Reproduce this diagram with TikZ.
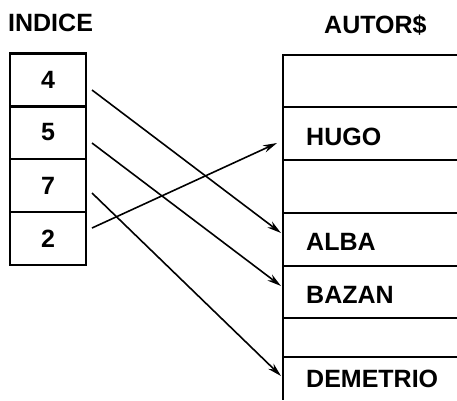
\documentclass[tikz,border=0pt]{standalone}
\usepackage{fontspec}
\setmainfont{Liberation Sans}
\usetikzlibrary{arrows.meta}
\begin{document}
\begin{tikzpicture}[x=1pt,y=-1pt,
  font=\fontsize{25}{30}\selectfont\bfseries,
  cell/.style={draw, line width=2.2pt, minimum width=76pt, minimum height=53pt, inner sep=0pt},
  frame/.style={line width=2.2pt},
  lbl/.style={anchor=base west, inner sep=0pt},
  ptr/.style={line width=1.6pt, -{Stealth[length=14pt,width=7.5pt]}}]
\useasboundingbox (0,0) rectangle (457,400);
% titles
\node[anchor=base west, inner sep=0pt] (tindice) at (8,31) {INDICE};
\node[anchor=base west, inner sep=0pt] (tautor) at (324,33) {AUTOR\$};
% index cells
\node[cell] (c4) at (48,80) {4};
\node[cell] (c5) at (48,132.5) {5};
\node[cell] (c7) at (48,185.5) {7};
\node[cell] (c2) at (48,238.5) {2};
% author table
\draw[frame] (457,55) -- (283,55) -- (283,400);
\foreach \yy in {107,160,213,266,318,357} \draw[frame] (283,\yy) -- (457,\yy);
\node[lbl] (hugo) at (306,145) {HUGO};
\node[lbl] (alba) at (306,250) {ALBA};
\node[lbl] (bazan) at (306,303) {BAZAN};
\node[lbl] (demetrio) at (306,387) {DEMETRIO};
% pointer ends
\coordinate (s4) at (92,90);
\coordinate (s5) at (92,143);
\coordinate (s7) at (92,193);
\coordinate (s2) at (92,228);
\coordinate (ealba) at (281,233);
\coordinate (ebazan) at (281,286);
\coordinate (edem) at (281,376);
\coordinate (ehugo) at (277,143);
\draw[ptr] (s4) -- (ealba);
\draw[ptr] (s5) -- (ebazan);
\draw[ptr] (s7) -- (edem);
\draw[ptr] (s2) -- (ehugo);
\end{tikzpicture}
\end{document}
